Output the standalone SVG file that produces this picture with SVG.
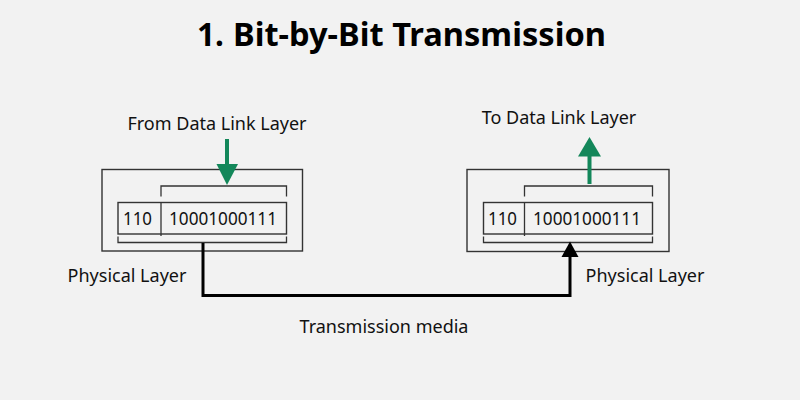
<svg xmlns="http://www.w3.org/2000/svg" width="800" height="400" viewBox="0 0 800 400">
<style>
.bg{fill:#f2f2f2}
.box{fill:none;stroke:#333;stroke-width:1.4}
.br{fill:none;stroke:#333;stroke-width:1.3}
.t{font-family:"Noto Sans","Open Sans",sans-serif;fill:#111;font-size:18px}
.num{font-family:"Noto Sans","Open Sans",sans-serif;fill:#111;font-size:18px}
.title{font-family:"Noto Sans","Open Sans",sans-serif;fill:#000;font-size:31.5px;font-weight:bold}
.g{fill:#13875a}
.gs{stroke:#13875a;stroke-width:4;fill:none}
.wire{stroke:#000;stroke-width:3;fill:none}
</style>
<rect class="bg" x="0" y="0" width="800" height="400"/>
<text class="title" y="46"><tspan x="197">1.</tspan><tspan x="233" textLength="373" lengthAdjust="spacingAndGlyphs">Bit-by-Bit Transmission</tspan></text>

<g id="sender">
  <rect class="box" x="102" y="169.5" width="200.5" height="81.5"/>
  <rect class="box" x="118" y="202.5" width="168.5" height="31.5"/>
  <path class="br" d="M161 202.5 V236 M161 196.5 V186 H286.5 V196.5"/>
  <path class="br" d="M118 236.5 V242.5 H286.5 V236.5"/>
  <text class="num" x="123" y="225" textLength="29" lengthAdjust="spacingAndGlyphs">110</text>
  <text class="num" x="169" y="225" textLength="108" lengthAdjust="spacingAndGlyphs">10001000111</text>
  <text class="t" x="217" y="130" text-anchor="middle">From Data Link Layer</text>
  <text class="t" x="127" y="281.5" text-anchor="middle">Physical Layer</text>
</g>

<g id="receiver">
  <rect class="box" x="467" y="169.5" width="202" height="82"/>
  <rect class="box" x="483.5" y="202.5" width="169" height="31.5"/>
  <path class="br" d="M524.5 202.5 V236 M524.5 196.5 V186 H652.5 V196.5"/>
  <path class="br" d="M483.5 236.5 V242.5 H652.5 V236.5"/>
  <text class="num" x="488" y="225" textLength="29" lengthAdjust="spacingAndGlyphs">110</text>
  <text class="num" x="533" y="225" textLength="108" lengthAdjust="spacingAndGlyphs">10001000111</text>
  <text class="t" x="559" y="124" text-anchor="middle">To Data Link Layer</text>
  <text class="t" x="645" y="281.5" text-anchor="middle">Physical Layer</text>
</g>

<g id="connectors">
  <path class="gs" d="M227 139 V166"/>
  <polygon class="g" points="216.5,164 238,164 227,185"/>
  <path class="gs" d="M589.5 184 V154"/>
  <polygon class="g" points="578,156.5 601,156.5 589.5,137"/>
  <path class="wire" d="M203 243 V295.5 H570 V254"/>
  <polygon fill="#000" points="561.5,257 578.5,257 570,241.5"/>
  <text class="t" x="384" y="333" text-anchor="middle">Transmission media</text>
</g>
</svg>
